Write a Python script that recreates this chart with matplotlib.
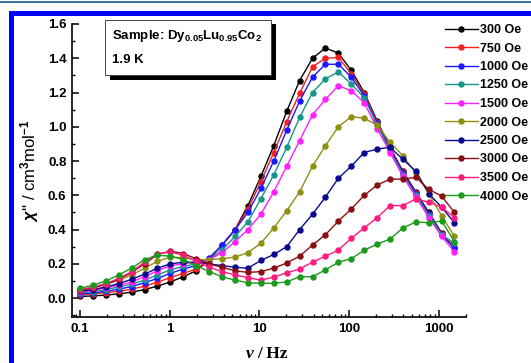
import matplotlib
matplotlib.use("Agg")
import matplotlib.pyplot as plt
import matplotlib.patches as patches
from matplotlib.ticker import MultipleLocator, LogLocator, FuncFormatter, NullFormatter

plt.rcParams['font.family'] = ['Liberation Sans', 'DejaVu Sans']
plt.rcParams['mathtext.fontset'] = 'custom'
plt.rcParams['mathtext.rm'] = 'Liberation Sans:bold'
plt.rcParams['mathtext.it'] = 'Liberation Sans:italic:bold'
plt.rcParams['mathtext.bf'] = 'Liberation Sans:bold'
plt.rcParams['mathtext.default'] = 'rm'

# frequencies (Hz)
freq = [0.1, 0.139, 0.194, 0.270, 0.376, 0.524, 0.730, 1.017, 1.417, 1.974,
        2.750, 3.83, 5.34, 7.43, 10.36, 14.43, 20.1, 28.0, 39.0, 54.3,
        75.7, 105.4, 146.9, 204.6, 285.0, 397.0, 553.0, 770.0, 1073.0, 1488.0]

chi_300 = [0.010, 0.013, 0.018, 0.025, 0.035, 0.050, 0.070, 0.095, 0.125, 0.160,
           0.225, 0.310, 0.400, 0.540, 0.710, 0.890, 1.090, 1.270, 1.400, 1.460,
           1.430, 1.330, 1.200, 1.035, 0.880, 0.740, 0.620, 0.500, 0.380, 0.290]
chi_750 = [0.020, 0.025, 0.032, 0.040, 0.052, 0.070, 0.093, 0.120, 0.145, 0.170,
           0.225, 0.310, 0.400, 0.520, 0.680, 0.850, 1.030, 1.195, 1.350, 1.400,
           1.405, 1.310, 1.190, 1.030, 0.875, 0.735, 0.615, 0.490, 0.375, 0.300]
chi_1000 = [0.025, 0.030, 0.040, 0.052, 0.068, 0.090, 0.115, 0.145, 0.170, 0.190,
            0.235, 0.310, 0.400, 0.500, 0.640, 0.800, 0.980, 1.150, 1.290, 1.365,
            1.365, 1.290, 1.180, 1.020, 0.870, 0.730, 0.610, 0.490, 0.370, 0.290]
chi_1250 = [0.030, 0.038, 0.050, 0.065, 0.082, 0.105, 0.135, 0.165, 0.185, 0.200,
            0.225, 0.280, 0.360, 0.445, 0.580, 0.720, 0.880, 1.055, 1.200, 1.280,
            1.320, 1.250, 1.170, 1.010, 0.860, 0.720, 0.600, 0.480, 0.370, 0.320]
chi_1500 = [0.035, 0.045, 0.060, 0.075, 0.095, 0.125, 0.160, 0.190, 0.200, 0.210,
            0.225, 0.265, 0.330, 0.400, 0.490, 0.620, 0.770, 0.920, 1.070, 1.160,
            1.240, 1.210, 1.140, 0.990, 0.850, 0.710, 0.590, 0.470, 0.360, 0.270]
chi_2000 = [0.045, 0.060, 0.080, 0.105, 0.135, 0.175, 0.215, 0.240, 0.235, 0.225,
            0.225, 0.230, 0.240, 0.265, 0.320, 0.410, 0.510, 0.620, 0.770, 0.890,
            1.000, 1.060, 1.050, 1.010, 0.910, 0.830, 0.730, 0.610, 0.480, 0.360]
chi_2500 = [0.040, 0.050, 0.065, 0.085, 0.110, 0.140, 0.175, 0.200, 0.210, 0.210,
            0.200, 0.190, 0.180, 0.175, 0.220, 0.255, 0.300, 0.400, 0.490, 0.590,
            0.700, 0.770, 0.850, 0.870, 0.880, 0.810, 0.740, 0.610, 0.530, 0.440]
chi_3000 = [0.045, 0.060, 0.080, 0.110, 0.150, 0.200, 0.255, 0.275, 0.260, 0.230,
            0.200, 0.180, 0.160, 0.150, 0.155, 0.175, 0.205, 0.245, 0.310, 0.370,
            0.450, 0.520, 0.600, 0.660, 0.695, 0.695, 0.705, 0.635, 0.595, 0.500]
chi_3500 = [0.050, 0.065, 0.085, 0.115, 0.155, 0.210, 0.260, 0.270, 0.250, 0.215,
            0.180, 0.155, 0.135, 0.120, 0.105, 0.123, 0.148, 0.170, 0.210, 0.245,
            0.280, 0.350, 0.410, 0.470, 0.540, 0.540, 0.580, 0.560, 0.530, 0.470]
chi_4000 = [0.057, 0.076, 0.100, 0.135, 0.175, 0.225, 0.250, 0.245, 0.225, 0.190,
            0.155, 0.125, 0.105, 0.090, 0.087, 0.087, 0.095, 0.125, 0.125, 0.165,
            0.210, 0.230, 0.280, 0.315, 0.345, 0.410, 0.445, 0.440, 0.450, 0.330]

series = [chi_300, chi_750, chi_1000, chi_1250, chi_1500,
          chi_2000, chi_2500, chi_3000, chi_3500, chi_4000]
labels = ['300 Oe', '750 Oe', '1000 Oe', '1250 Oe', '1500 Oe',
          '2000 Oe', '2500 Oe', '3000 Oe', '3500 Oe', '4000 Oe']
colors = ['#000000', '#f42020', '#1a1aff', '#17958a', '#ff20ff',
          '#8f8f10', '#0a0a90', '#8a0f14', '#ff1a80', '#1c9a1c']

W, H = 531, 363
fig = plt.figure(figsize=(W / 100, H / 100), dpi=100)


def fx(px):
    return px / W


def fy(py):
    return 1 - py / H


ax = fig.add_axes([fx(72), fy(317), fx(466) - fx(72), fy(24) - fy(317)])

for y, lab, c in zip(series, labels, colors):
    ax.plot(freq, y, '-o', color=c, lw=1.0, ms=3.6, mec=c, label=lab)

ax.set_xscale('log')
ax.set_xlim(0.0815, 2000)
ax.set_ylim(-0.11, 1.6)

for s in ['top', 'right']:
    ax.spines[s].set_visible(False)
for s in ['left', 'bottom']:
    ax.spines[s].set_linewidth(1.2)

ax.yaxis.set_major_locator(MultipleLocator(0.2))
ax.yaxis.set_minor_locator(MultipleLocator(0.1))
ax.yaxis.set_major_formatter(FuncFormatter(lambda v, p: '%.1f' % v))
ax.xaxis.set_major_locator(LogLocator(base=10, numticks=10))
ax.xaxis.set_minor_locator(LogLocator(base=10, subs=range(2, 10), numticks=20))
ax.xaxis.set_major_formatter(FuncFormatter(lambda v, p: '%g' % v))
ax.xaxis.set_minor_formatter(NullFormatter())
ax.tick_params(which='major', direction='in', length=5, width=1.1,
               labelsize=9.5, pad=4)
ax.tick_params(which='minor', direction='in', length=2.5, width=1.0)
for t in ax.get_xticklabels() + ax.get_yticklabels():
    t.set_fontweight('bold')

ax.set_ylabel(r"$\mathit{\chi}$'' / cm$^{3}$mol$^{-1}$", fontsize=12)
ax.yaxis.set_label_coords((41 - 72) / 394, 0.5)

# x label
fig.text(fx(254), fy(358), 'ν', ha='right', va='baseline', fontsize=12.5,
         family='Liberation Serif', style='italic', weight='bold')
fig.text(fx(257), fy(358), '/ Hz', ha='left', va='baseline', fontsize=12.5,
         family='Liberation Serif', weight='bold')

# sample box with shadow
fig.add_artist(patches.Rectangle((fx(110), fy(80)), fx(276) - fx(110), fy(24) - fy(80),
                                 transform=fig.transFigure, facecolor='black',
                                 edgecolor='none', zorder=5))
fig.add_artist(patches.Rectangle((fx(105), fy(75)), fx(271) - fx(105), fy(20) - fy(75),
                                 transform=fig.transFigure, facecolor='white',
                                 edgecolor='#444444', lw=0.7, zorder=6))
fig.text(fx(112), fy(36), r"Sample: Dy$_{0.05}$Lu$_{0.95}$Co$_{2}$", fontsize=9.5,
         weight='bold', va='center', ha='left', zorder=7)
fig.text(fx(112), fy(60), "1.9 K", fontsize=9.5, weight='bold', va='center',
         ha='left', zorder=7)

leg = ax.legend(loc='upper left', bbox_to_anchor=(fx(445), fy(24)),
                bbox_transform=fig.transFigure, frameon=False, numpoints=1,
                handlelength=2.6, handletextpad=0.2, labelspacing=0.52,
                borderpad=0, borderaxespad=0, prop={'weight': 'bold', 'size': 9})

# page frame
fig.add_artist(patches.Rectangle((0, fy(3)), 1, fy(1) - fy(3), transform=fig.transFigure,
                                 facecolor='#3b73a8', edgecolor='none'))
fig.add_artist(patches.Rectangle((fx(9), fy(16)), 1, fy(11) - fy(16), transform=fig.transFigure,
                                 facecolor='#0000ff', edgecolor='none'))
fig.add_artist(patches.Rectangle((fx(9), 0), fx(14) - fx(9), fy(11), transform=fig.transFigure,
                                 facecolor='#0000ff', edgecolor='none'))

fig.savefig('out.png', dpi=100)
